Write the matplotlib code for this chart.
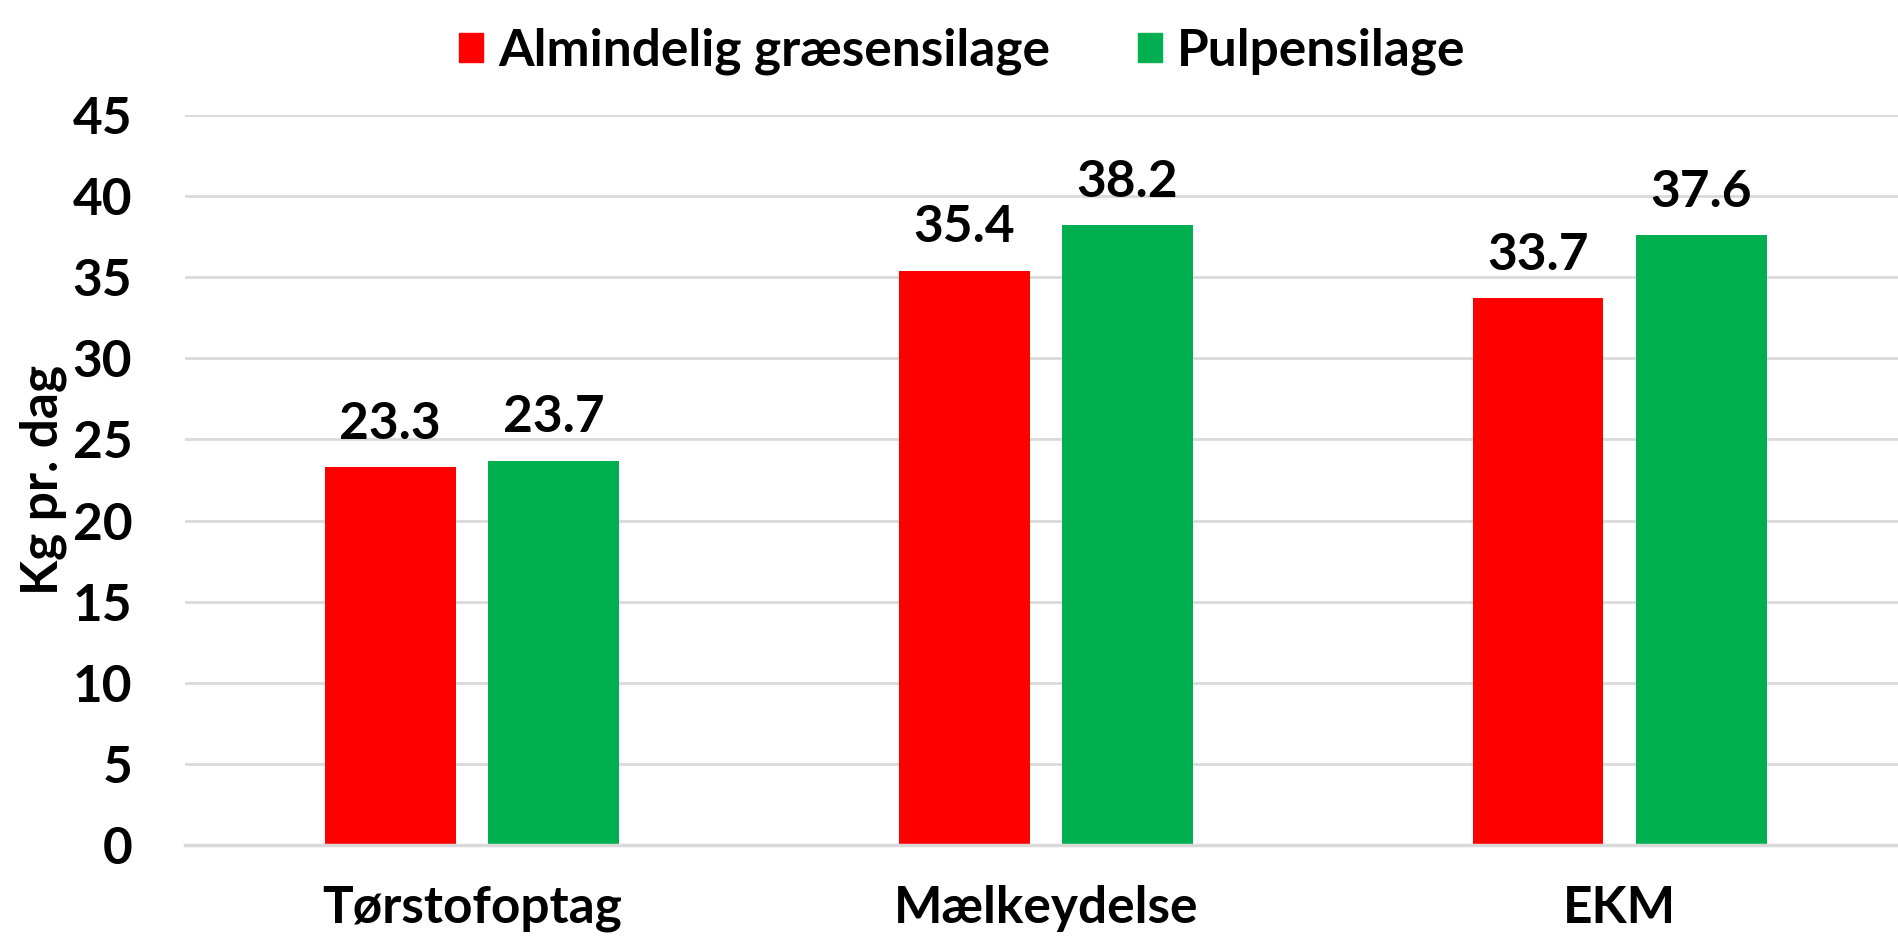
import numpy as np
import matplotlib
matplotlib.use("Agg")
import matplotlib.pyplot as plt
import matplotlib.patches as mpatches

categories = ["Tørstofoptag", "Mælkeydelse", "EKM"]
series_names = ["Almindelig græsensilage", "Pulpensilage"]
almindelig = [23.3, 35.4, 33.7]
pulpen = [23.7, 38.2, 37.6]
colors = ["#ff0000", "#00b050"]
yticks = [0, 5, 10, 15, 20, 25, 30, 35, 40, 45]

plt.rcParams['font.family'] = ['Lato', 'DejaVu Sans']
plt.rcParams['font.weight'] = 'bold'
fs = 37

fig = plt.figure(figsize=(18.98, 9.38), dpi=100)
ax = fig.add_axes([0.0975, 0.0991, 0.9025, 0.7783])

x = np.arange(len(categories))
width = 0.228
offset = 0.1424
for vals, col, off in [(almindelig, colors[0], -offset), (pulpen, colors[1], offset)]:
    bars = ax.bar(x + off, vals, width, color=col, zorder=2)
    for b, v in zip(bars, vals):
        ax.annotate(f"{v:.1f}", (b.get_x() + b.get_width() / 2, v),
                    xytext=(0, 14), textcoords='offset points',
                    ha='center', va='bottom', fontsize=fs, fontweight='bold')

ax.set_xlim(-0.5, 2.485)
ax.set_ylim(0, 45)
ax.set_yticks(yticks)
ax.set_yticklabels([str(t) for t in yticks], fontsize=fs, fontweight='bold')
ax.set_xticks(x)
ax.set_xticklabels(categories, fontsize=fs, fontweight='bold')
ax.tick_params(axis='y', length=0, pad=38)
ax.tick_params(axis='x', length=0, pad=29)
ax.grid(axis='y', color='#d9d9d9', linewidth=2, zorder=0)
for s in ['top', 'right', 'left']:
    ax.spines[s].set_visible(False)
ax.spines['bottom'].set_color('#d9d9d9')
ax.spines['bottom'].set_linewidth(2.5)

ax.set_ylabel("Kg pr. dag", fontsize=fs, fontweight='bold')
ax.yaxis.set_label_coords(-0.069, 0.5)

handles = [mpatches.Patch(color=c, label=n) for c, n in zip(colors, series_names)]
fig.legend(handles=handles, loc='upper center', bbox_to_anchor=(0.507, 1.02), ncol=2,
           frameon=False, fontsize=fs, handlelength=0.47, handleheight=0.5,
           handletextpad=0.3, columnspacing=1.7)

fig.savefig("out.png", dpi=100)
